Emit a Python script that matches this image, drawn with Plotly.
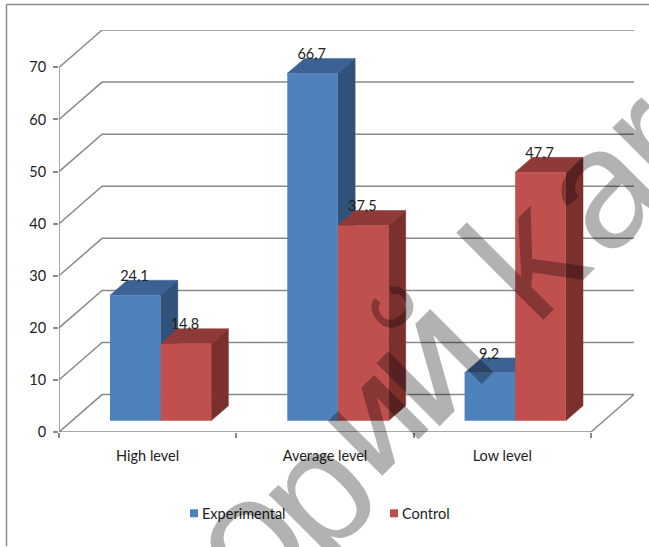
import plotly.graph_objects as go

categories = ["High level", "Average level", "Low level"]
experimental = [24.1, 66.7, 9.2]
control = [14.8, 37.5, 47.7]
y_ticks = [0, 10, 20, 30, 40, 50, 60, 70]

W, H = 649, 547
ML, MR, MT, MB = 59, 15, 29.5, 114.5
DX, DY = 0.243, 7.18          # oblique shift of the back wall, in data units
D0, D1 = 0.3, 0.7             # depth span of the bars
BAR_W = 0.2853
XMAX = 3 + DX * 1.0
YMAX = y_ticks[-1] + DY
FONT = "Lato"
TXT = "#222222"
GRID = "#8a8a8a"

def px(x):
    return (x - ML) / (W - ML - MR)

def py(y):
    return 1 - (y - MT) / (H - MT - MB)

def face(pts):
    return [p[0] + p[2] * DX for p in pts], [p[1] + p[2] * DY for p in pts]

fig = go.Figure()

# walls and floor
for v in y_ticks:
    xs, ys = face([(0, v, 0), (0, v, 1), (3, v, 1)])
    if v == 0:
        a, b = face([(3, 0, 1), (3, 0, 0), (0, 0, 0)])
        xs += a[1:]
        ys += b[1:]
    fig.add_trace(go.Scatter(x=xs, y=ys, mode="lines", showlegend=False, hoverinfo="skip",
                             line=dict(color=GRID, width=1.5)))
fig.add_trace(go.Scatter(x=[0, 0], y=[0, y_ticks[-1]], mode="lines", showlegend=False, hoverinfo="skip",
                         line=dict(color=GRID, width=1.5)))

series = [
    ("Experimental", experimental, -BAR_W / 2, "#4F81BD", "#3C6294", "#30527A"),
    ("Control", control, BAR_W / 2, "#C0504D", "#8F3A38", "#7C302E"),
]

# 3D faces, category by category so nearer ones overlap correctly
for i in range(len(categories)):
    for name, vals, off, front, top, side in series:
        c = i + 0.5 + off
        L, R, V = c - BAR_W / 2, c + BAR_W / 2, vals[i]
        for col, pts in (
            (top, [(L, V, D0), (R, V, D0), (R, V, D1), (L, V, D1), (L, V, D0)]),
            (side, [(R, 0, D0), (R, V, D0), (R, V, D1), (R, 0, D1), (R, 0, D0)]),
        ):
            xs, ys = face(pts)
            fig.add_trace(go.Scatter(x=xs, y=ys, mode="lines", fill="toself", fillcolor=col,
                                     line=dict(color=col, width=0.5), showlegend=False,
                                     hoverinfo="skip"))

# front faces and value labels on an overlaid pair of axes
for name, vals, off, front, top, side in series:
    centers = [i + 0.5 + off + D0 * DX for i in range(len(categories))]
    fig.add_trace(go.Bar(x=centers, y=vals, base=[D0 * DY] * len(vals), width=BAR_W,
                         marker=dict(color=front, line=dict(width=0)), name=name,
                         showlegend=False, xaxis="x2", yaxis="y2"))
for name, vals, off, front, top, side in series:
    centers = [i + 0.5 + off + D0 * DX - 0.005 for i in range(len(categories))]
    fig.add_trace(go.Scatter(x=centers, y=[v + 0.78 * DY for v in vals], mode="text",
                             text=[str(v).replace(".", ",") for v in vals],
                             textposition="middle center",
                             textfont=dict(family=FONT, size=14.5, color=TXT),
                             showlegend=False, hoverinfo="skip", xaxis="x2", yaxis="y2"))
# legend entries
for name, vals, off, front, top, side in series:
    fig.add_trace(go.Scatter(x=[None], y=[None], mode="markers", name=name,
                             marker=dict(symbol="square", size=8, color=front)))

# watermark glyphs: (text, centre x px, centre y px, size, angle)
marks = [
    ("o", 246, 538, 165, -45),
    ("p", 315, 492, 165, -45),
    ("<b>И</b>", 378, 426, 112, -45),
    ("<b>И</b>", 434, 368, 130, -45),
    ("<b>C</b>", 393, 308, 58, -125),
    ("k", 524, 256, 170, -45),
    ("a", 598, 187, 170, -45),
    ("r", 646, 138, 170, -45),
]
annotations = [
    dict(text=t, x=px(x), y=py(y), xref="paper", yref="paper", showarrow=False, textangle=a,
         font=dict(family="Liberation Sans", size=s, color="rgba(0,0,0,0.30)"),
         xanchor="center", yanchor="middle")
    for t, x, y, s, a in marks
]

frame = dict(type="line", xref="paper", yref="paper", line=dict(color="#8c8c8c", width=1.5))
shapes = [
    dict(frame, x0=px(6.5), x1=px(6.5), y0=py(4), y1=py(H)),
    dict(frame, x0=px(6.5), x1=px(W), y0=py(4), y1=py(4)),
]

fig.update_layout(
    width=W, height=H, margin=dict(l=ML, r=MR, t=MT, b=MB),
    plot_bgcolor="white", paper_bgcolor="white",
    font=dict(family=FONT, size=14.5, color=TXT),
    barmode="overlay", hovermode=False,
    annotations=annotations, shapes=shapes,
    xaxis=dict(range=[0, XMAX], tickmode="array", tickvals=[i + 0.5 for i in range(3)],
               ticktext=categories, ticks="", showgrid=False, zeroline=False, showline=False,
               ticklabelstandoff=13,
               minor=dict(tickmode="array", tickvals=[0, 1, 2, 3], ticks="outside", ticklen=5,
                          tickwidth=1.5, tickcolor=GRID, showgrid=False)),
    yaxis=dict(range=[0, YMAX], tickmode="array", tickvals=y_ticks, ticks="outside", ticklen=5,
               tickwidth=1.5, tickcolor=GRID, showgrid=False, zeroline=False, showline=False,
               ticklabelstandoff=4),
    xaxis2=dict(range=[0, XMAX], overlaying="x", visible=False),
    yaxis2=dict(range=[0, YMAX], overlaying="y", visible=False),
    legend=dict(orientation="h", x=px(162), y=py(498), xanchor="left", yanchor="top",
                entrywidthmode="pixels", entrywidth=155, bgcolor="rgba(0,0,0,0)",
                font=dict(family=FONT, size=14.5, color=TXT)),
)

post = """
document.body.style.margin = '0';
document.querySelectorAll('.legendsymbols').forEach(function(e){ e.setAttribute('transform','translate(12,0)'); });
"""
fig.write_html("out.html", post_script=post, config=dict(displayModeBar=False))
